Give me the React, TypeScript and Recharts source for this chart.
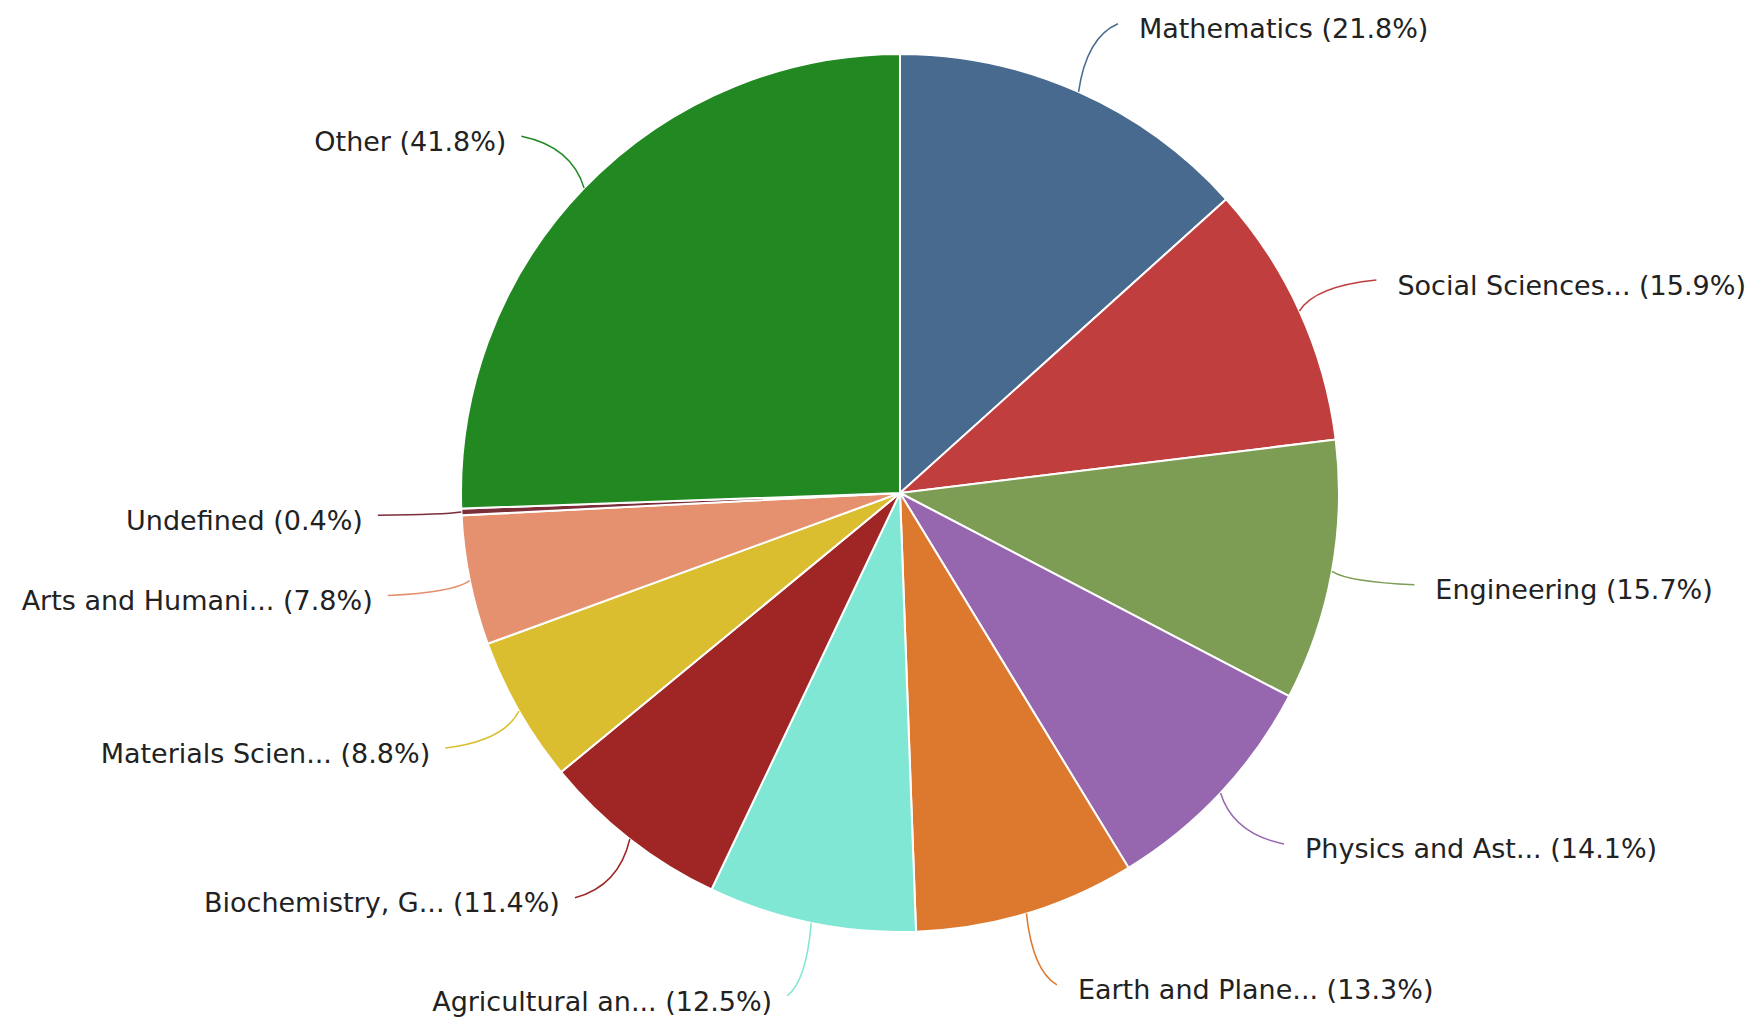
import React from "react";
import { PieChart, Pie, Cell } from "recharts";

const subjects = [
  "Mathematics",
  "Social Sciences...",
  "Engineering",
  "Physics and Ast...",
  "Earth and Plane...",
  "Agricultural an...",
  "Biochemistry, G...",
  "Materials Scien...",
  "Arts and Humani...",
  "Undefined",
  "Other",
];
const shares = [21.8, 15.9, 15.7, 14.1, 13.3, 12.5, 11.4, 8.8, 7.8, 0.4, 41.8];
const colors = [
  "#486a8f",
  "#c03e3e",
  "#7e9d54",
  "#9667af",
  "#dd782f",
  "#7fe7d3",
  "#a02626",
  "#dabe30",
  "#e5906e",
  "#7a2e3a",
  "#228822",
];

const data = subjects.map((name, i) => ({ name, value: shares[i] }));

const RAD = Math.PI / 180;

const renderLabel = (props: any) => {
  const { cx, cy, midAngle, outerRadius, index } = props;
  const cos = Math.cos(-midAngle * RAD);
  const sin = Math.sin(-midAngle * RAD);
  const right = cos >= 0;
  const sx = cx + outerRadius * cos;
  const sy = cy + outerRadius * sin;
  const ex = cx + outerRadius * 1.17 * cos + (right ? 9 : -9);
  const ey = cy + outerRadius * 1.17 * sin;
  const qx = sx + (ex - sx) * 0.2;
  const qy = sy + (ey - sy) * 0.8;
  const color = colors[index];
  return (
    <g>
      <path
        d={`M${sx},${sy}Q${qx},${qy} ${ex},${ey}`}
        stroke={color}
        strokeWidth={1.5}
        fill="none"
      />
      <text
        x={right ? ex + 21 : ex - 15}
        y={ey + 5}
        textAnchor={right ? "start" : "end"}
        dominantBaseline="central"
        fill="#222"
        fontSize={27}
        fontFamily="DejaVu Sans"
      >
        {`${subjects[index]} (${shares[index]}%)`}
      </text>
    </g>
  );
};

export default function App() {
  return (
    <div style={{ position: "absolute", left: 0, top: 0, width: 1752, height: 1017, background: "#fff" }}>
      <PieChart width={1752} height={1017}>
        <Pie
          data={data}
          dataKey="value"
          nameKey="name"
          cx={895}
          cy={488}
          outerRadius={439}
          startAngle={90}
          endAngle={-270}
          stroke="#fff"
          strokeWidth={2}
          label={renderLabel}
          labelLine={false}
          isAnimationActive={false}
        >
          {data.map((d, i) => (
            <Cell key={d.name} fill={colors[i]} />
          ))}
        </Pie>
      </PieChart>
    </div>
  );
}
